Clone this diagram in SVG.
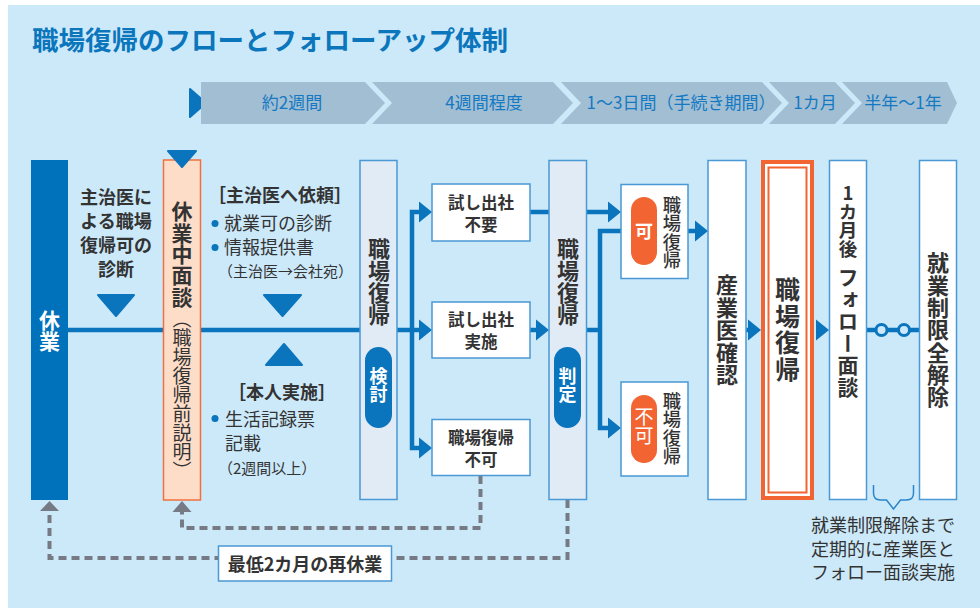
<svg xmlns="http://www.w3.org/2000/svg" width="980" height="608" viewBox="0 0 980 608">
<defs>
<style>
text { font-family: "Noto Sans CJK JP", "Noto Sans", sans-serif; }
.b { font-weight: 700; }
.dk { fill: #333333; }
.w { fill: #ffffff; }
.v { writing-mode: vertical-rl; text-orientation: upright; }
.tl { fill: #1479c2; font-size: 17px; text-anchor: middle; }
.seg { fill: #a2bed3; }
.flow { fill: none; stroke: #0a74bd; stroke-width: 4.5; }
.ah { fill: #0a74bd; }
.tri { fill: #0a74bd; stroke: #0a74bd; stroke-width: 2; stroke-linejoin: round; }
.dash { fill: none; stroke: #767a85; stroke-width: 4; stroke-dasharray: 8 5; }
.gah { fill: #767a85; }
.bx { fill: #ffffff; stroke: #4a98d4; stroke-width: 1.5; }
.bar { fill: #e0ebf6; stroke: #4a98d4; stroke-width: 1.5; }
.pill { fill: #0a74bd; }
.opill { fill: #f26532; }
.bt { font-weight: 700; fill: #333333; font-size: 16.5px; text-anchor: middle; }
</style>
</defs>
<rect x="8" y="5" width="972" height="603" fill="#cce9fa"/>
<text x="32" y="50" class="b" font-size="26.5" fill="#0b76bc">職場復帰のフローとフォローアップ体制</text>

<g id="timeline">
<polygon class="tri" points="190,89 206,103 190,117"/>
<polygon class="seg" points="201,82 365,82 385,103 365,124 201,124"/>
<polygon class="seg" points="372,82 553,82 573,103 553,124 372,124 392,103"/>
<polygon class="seg" points="561,82 762,82 782,103 762,124 561,124 581,103"/>
<polygon class="seg" points="769,82 835,82 855,103 835,124 769,124 789,103"/>
<polygon class="seg" points="842,82 947,82 957,103 947,124 842,124 862,103"/>
<text class="tl" x="292" y="109">約2週間</text>
<text class="tl" x="484" y="109">4週間程度</text>
<text class="tl" x="681" y="109">1〜3日間（手続き期間）</text>
<text class="tl" x="815" y="109">1カ月</text>
<text class="tl" x="903" y="109">半年〜1年</text>
</g>

<g id="connectors">
<path class="flow" d="M68,330 H360"/>
<path class="flow" d="M397,330 H412"/>
<path class="flow" d="M419,212 H412 V448 H419"/>
<path class="flow" d="M412,330 H419"/>
<polygon class="ah" points="432,212 419,201.5 419,222.5"/>
<polygon class="ah" points="432,330 419,319.5 419,340.5"/>
<polygon class="ah" points="432,448 419,437.5 419,458.5"/>
<path class="flow" d="M530,330 H537"/>
<polygon class="ah" points="549,330 536,319.5 536,340.5"/>
<path class="flow" d="M587,330 H600"/>
<path class="flow" d="M621,231 H600 V428 H608"/>
<polygon class="ah" points="621,428 608,417.5 608,438.5"/>
<path class="dash" d="M480.5,476 V528 H182 V512"/>
<polygon class="gah" points="182,501 172.5,512 191.5,512"/>
<path class="dash" d="M567.5,500 V558 H49.5 V511"/>
<polygon class="gah" points="49.5,501 40,511 59,511"/>
<path class="flow" d="M688,231 H695"/>
<polygon class="ah" points="708,231 695,220.5 695,241.5"/>
<path class="flow" d="M746,330 H748"/>
<polygon class="ah" points="761,330 748,319.5 748,340.5"/>
<polygon class="ah" points="829,330 816,319.5 816,340.5"/>
<path class="flow" d="M867,330 H920"/>
<circle cx="881.5" cy="330" r="5.5" fill="#cce9fa" stroke="#0a74bd" stroke-width="3"/>
<circle cx="904" cy="330" r="5.5" fill="#cce9fa" stroke="#0a74bd" stroke-width="3"/>
<path d="M873.5,485 V493 Q873.5,500 880.5,500 H886.5 L893.5,509 L900.5,500 H906.5 Q913.5,500 913.5,493 V485" fill="none" stroke="#2a86cc" stroke-width="1.5"/>
<path class="flow" d="M530,212 H608"/>
<polygon class="ah" points="621,212 608,201.5 608,222.5"/>
</g>

<g id="kyugyo">
<rect x="31" y="160" width="37" height="340" fill="#0071bb"/>
<text class="v b w" x="49.5" y="310" font-size="21">休業</text>
</g>

<g id="shujii-shindan">
<text class="b dk" font-size="18" text-anchor="middle"><tspan x="116" y="203.5">主治医に</tspan><tspan x="116" y="227.5">よる職場</tspan><tspan x="116" y="251.5">復帰可の</tspan><tspan x="116" y="275.5">診断</tspan></text>
<polygon class="tri" points="98,295 134,295 116,316"/>
</g>

<g id="mendan">
<rect x="163.5" y="160" width="37" height="340" fill="#fddcc8" stroke="#f0703f" stroke-width="1.5"/>
<polygon class="tri" points="168,151 196,151 182,167"/>
<text class="v b dk" x="182" y="201" font-size="21" letter-spacing="0.3">休業中面談</text>
<text class="v dk" x="182" y="309" font-size="19">（職場復帰前説明）</text>
</g>

<g id="irai">
<text class="b dk" x="280" y="202" font-size="18" text-anchor="middle">［主治医へ依頼］</text>
<circle cx="215" cy="223.5" r="3.5" fill="#0a74bd"/>
<text class="dk" x="224" y="230" font-size="18">就業可の診断</text>
<circle cx="215" cy="247.5" r="3.5" fill="#0a74bd"/>
<text class="dk" x="224" y="254" font-size="18">情報提供書</text>
<text class="dk" x="218" y="277" font-size="15">（主治医→会社宛）</text>
<polygon class="tri" points="264,295 301,295 282.5,316"/>
</g>

<g id="honnin">
<polygon class="tri" points="266,365 302,365 284,344"/>
<text class="b dk" x="282" y="399" font-size="18" text-anchor="middle">［本人実施］</text>
<circle cx="215" cy="418.5" r="3.5" fill="#0a74bd"/>
<text class="dk" x="225" y="425.5" font-size="18">生活記録票</text>
<text class="dk" x="225" y="449.5" font-size="18">記載</text>
<text class="dk" x="218" y="473.5" font-size="15">（2週間以上）</text>
</g>

<g id="kento">
<rect class="bar" x="360" y="160.5" width="37" height="339"/>
<text class="v b dk" x="379" y="238" font-size="22">職場復帰</text>
<rect class="pill" x="365" y="347" width="27" height="81" rx="13.5"/>
<text class="v b w" x="378.5" y="367" font-size="18">検討</text>
</g>

<g id="fuyou">
<rect class="bx" x="432" y="184" width="98" height="57"/>
<text class="bt" x="481" y="208.5">試し出社</text>
<text class="bt" x="481" y="230.5">不要</text>
</g>
<g id="jisshi">
<rect class="bx" x="432" y="302" width="98" height="56"/>
<text class="bt" x="481" y="325.5">試し出社</text>
<text class="bt" x="481" y="347.5">実施</text>
</g>
<g id="fuka-box">
<rect class="bx" x="432" y="419.5" width="98" height="56"/>
<text class="bt" x="481" y="443.5">職場復帰</text>
<text class="bt" x="481" y="465.5">不可</text>
</g>

<g id="hantei">
<rect class="bar" x="549" y="160.5" width="37.5" height="339"/>
<text class="v b dk" x="568" y="238" font-size="22">職場復帰</text>
<rect class="pill" x="554" y="347" width="27" height="81" rx="13.5"/>
<text class="v b w" x="567.5" y="367" font-size="18">判定</text>
</g>

<g id="ka">
<rect class="bx" x="621" y="184.5" width="67" height="94"/>
<rect class="opill" x="631" y="197" width="26" height="68" rx="13"/>
<text class="b w" x="644" y="237.5" font-size="18" text-anchor="middle">可</text>
<text class="v dk" x="672" y="196" font-size="18.3" font-weight="500">職場復帰</text>
</g>

<g id="fuka">
<rect class="bx" x="621" y="382" width="67" height="94"/>
<rect class="opill" x="631" y="395" width="26" height="68" rx="13"/>
<text class="v w" x="644" y="407.5" font-size="19">不可</text>
<text class="v dk" x="672" y="392" font-size="18.3" font-weight="500">職場復帰</text>
</g>

<g id="sangyoui">
<rect class="bx" x="708" y="160.5" width="38" height="339"/>
<text class="v b dk" x="727" y="274" font-size="22" letter-spacing="0.5">産業医確認</text>
</g>

<g id="fukki">
<rect x="763" y="162" width="49" height="336" fill="#ffffff" stroke="#f26532" stroke-width="4"/>
<rect x="768.5" y="167.5" width="38" height="325" fill="none" stroke="#f26532" stroke-width="2"/>
<text class="v b dk" x="787.5" y="277" font-size="25" letter-spacing="1.5">職場復帰</text>
</g>

<g id="follow">
<rect class="bx" x="829.5" y="160.5" width="37" height="339"/>
<text class="v b dk" x="848" y="184" font-size="18.5">1カ月後</text>
<text class="v b dk" x="848" y="266.5" font-size="21" letter-spacing="1">フォロー面談</text>
</g>

<g id="kaijo">
<rect class="bx" x="919.5" y="160.5" width="37" height="339"/>
<text class="v b dk" x="938" y="252" font-size="22" letter-spacing="0.3">就業制限全解除</text>
</g>

<g id="note">
<text class="dk" font-size="18" text-anchor="middle"><tspan x="883" y="532">就業制限解除まで</tspan><tspan x="883" y="555.5">定期的に産業医と</tspan><tspan x="883" y="579">フォロー面談実施</tspan></text>
</g>

<g id="saikyugyo">
<rect class="bx" x="218.5" y="546" width="173" height="35"/>
<text class="b dk" x="305" y="570.5" font-size="18" text-anchor="middle">最低2カ月の再休業</text>
</g>
</svg>
